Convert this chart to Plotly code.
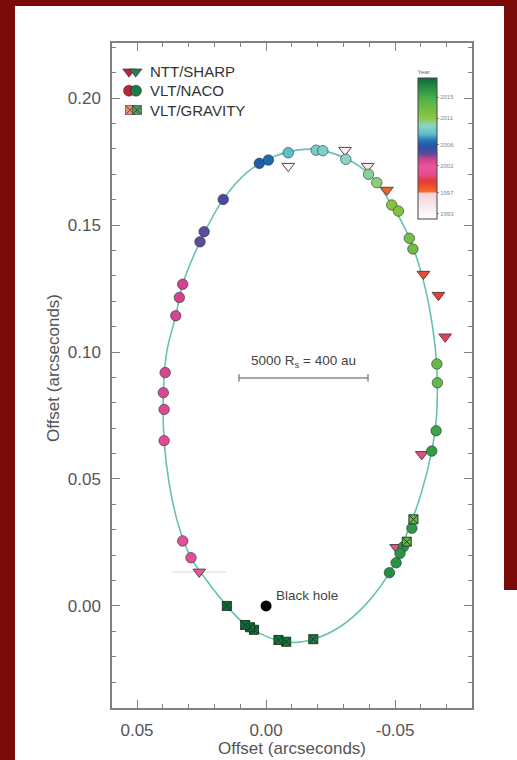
import plotly.graph_objects as go

# ---------------- data (arcseconds) ----------------
# NTT/SHARP observations
sharp_x = [-0.0086, -0.0306, -0.0394, -0.0468, -0.0610, -0.0668, -0.0694, -0.0603, -0.0504, 0.0259]
sharp_y = [0.1732, 0.1795, 0.1732, 0.1638, 0.1307, 0.1224, 0.1060, 0.0597, 0.0231, 0.0134]
sharp_year = [1992.4, 1993.4, 1994.4, 1997.5, 1998.5, 1999.0, 1999.6, 2000.2, 2000.8, 2002.0]
sharp_xerr = [0, 0, 0, 0, 0, 0, 0, 0, 0, 0.0105]

# VLT/NACO observations
naco_x = [0.0291, 0.0323, 0.0395, 0.0395, 0.0398, 0.0391, 0.0350, 0.0336, 0.0323,
          0.0256, 0.0240, 0.0166, 0.0026, -0.0009,
          -0.0086, -0.0194, -0.0220, -0.0309, -0.0397, -0.0429,
          -0.0487, -0.0513, -0.0555, -0.0569, -0.0662, -0.0664, -0.0659, -0.0642,
          -0.0565, -0.0532, -0.0519, -0.0504, -0.0478]
naco_y = [0.0190, 0.0256, 0.0651, 0.0774, 0.0840, 0.0919, 0.1143, 0.1215, 0.1267,
          0.1434, 0.1474, 0.1601, 0.1743, 0.1756,
          0.1785, 0.1795, 0.1793, 0.1759, 0.1700, 0.1667,
          0.1579, 0.1555, 0.1448, 0.1406, 0.0953, 0.0879, 0.0690, 0.0610,
          0.0306, 0.0233, 0.0207, 0.0170, 0.0131]
naco_year = [2002.3, 2002.4, 2002.6, 2002.7, 2002.8, 2002.9, 2003.0, 2003.1, 2003.2,
             2004.3, 2004.4, 2005.0, 2006.0, 2006.3,
             2008.0, 2009.0, 2009.2, 2009.6, 2010.2, 2010.5,
             2011.5, 2011.8, 2012.5, 2012.8, 2013.3, 2013.6, 2015.5, 2016.0,
             2016.3, 2016.4, 2016.5, 2016.6, 2016.8]

# VLT/GRAVITY observations
grav_x = [-0.0571, -0.0545, -0.0183, -0.0078, -0.0048, 0.0047, 0.0062, 0.0081, 0.0152]
grav_y = [0.0341, 0.0253, -0.0131, -0.0141, -0.0134, -0.0094, -0.0084, -0.0075, 0.0000]
grav_year = [2013.0, 2013.5, 2017.6, 2018.0, 2018.1, 2018.3, 2018.35, 2018.4, 2018.5]

# fitted orbit
orbit_x = [-0.0200, -0.0309, -0.0400, -0.0487, -0.0555, -0.0610, -0.0645, -0.0662, -0.0660,
           -0.0642, -0.0600, -0.0540, -0.0478, -0.0390, -0.0290, -0.0183, -0.0078, 0.0020,
           0.0090, 0.0152, 0.0230, 0.0291, 0.0340, 0.0375, 0.0395, 0.0398, 0.0385, 0.0350,
           0.0323, 0.0256, 0.0166, 0.0070, -0.0030, -0.0120, -0.0200]
orbit_y = [0.1797, 0.1762, 0.1700, 0.1580, 0.1450, 0.1280, 0.1100, 0.0930, 0.0740,
           0.0610, 0.0440, 0.0270, 0.0131, 0.0010, -0.0080, -0.0131, -0.0143, -0.0110,
           -0.0065, 0.0000, 0.0100, 0.0190, 0.0320, 0.0480, 0.0650, 0.0840, 0.1000, 0.1143,
           0.1267, 0.1434, 0.1601, 0.1710, 0.1770, 0.1795, 0.1797]

bh_x = [0.0]
bh_y = [0.0]

x_ticks = [0.05, 0.0, -0.05]
x_ticktext = ["0.05", "0.00", "-0.05"]
cbar_ticks = [2015, 2011, 2006, 2002, 1997, 1993]
cbar_ticktext = ["2015", "2011", "2006", "2002", "1997", "1993"]

# colour scale (year -> colour)
cs_years = [1992.0, 1994.5, 1996.8, 1997.2, 1998.2, 1999.2, 2000.5, 2002.0, 2003.3, 2004.2,
            2005.3, 2006.0, 2007.0, 2008.0, 2009.6, 2011.2, 2014.4, 2016.2, 2018.6]
cs_colors = ["#ffffff", "#f7e9ee", "#f2d4da", "#f26a2c", "#ef4f2c", "#e43a3c", "#e5508f",
             "#e9559b", "#cf418d", "#5d4c9e", "#3f4aa1", "#1d5ea9", "#2b7cb9", "#5dbfcc",
             "#8bd3c6", "#8cc63f", "#52b448", "#2f9a46", "#0a6a38"]

# ---------------- layout helpers ----------------
W, H = 517, 760
ML, MR, MT, MB = 112, 45, 43, 52
PW, PH = W - ML - MR, H - MT - MB


def px(xp):
    return (xp - ML) / PW


def py(yp):
    return (H - MB - yp) / PH


FONT = "Liberation Sans, Arial, Helvetica, sans-serif"
GREY = "#555555"
AXC = "#808080"

ymin, ymax = cs_years[0], cs_years[-1]
colorscale = [[(y - ymin) / (ymax - ymin), c] for y, c in zip(cs_years, cs_colors)]

fig = go.Figure()

fig.add_trace(go.Scatter(x=orbit_x, y=orbit_y, mode="lines",
                         line=dict(color="#66c2b4", width=1.6, shape="spline", smoothing=1.0),
                         hoverinfo="skip", showlegend=False))

fig.add_trace(go.Scatter(x=sharp_x, y=sharp_y, mode="markers", name="NTT/SHARP",
                         error_x=dict(type="data", array=sharp_xerr, color="#dcdcdc",
                                      thickness=1, width=0),
                         marker=dict(symbol="triangle-down", size=11, color=sharp_year,
                                     coloraxis="coloraxis",
                                     line=dict(color="#5a4040", width=1)),
                         showlegend=False))

fig.add_trace(go.Scatter(x=naco_x, y=naco_y, mode="markers", name="VLT/NACO",
                         marker=dict(symbol="circle", size=10.5, color=naco_year,
                                     coloraxis="coloraxis",
                                     line=dict(color="rgba(40,50,50,0.6)", width=1)),
                         showlegend=False))

fig.add_trace(go.Scatter(x=grav_x, y=grav_y, mode="markers", name="VLT/GRAVITY",
                         marker=dict(symbol="square-x", size=9, color=grav_year,
                                     coloraxis="coloraxis",
                                     line=dict(color="#1e3a28", width=1)),
                         showlegend=False))

fig.add_trace(go.Scatter(x=bh_x, y=bh_y, mode="markers",
                         marker=dict(symbol="circle", size=11, color="black"),
                         showlegend=False))

# legend glyphs (overlay axes in plot-fraction units)
legend_rows = [
    ("NTT/SHARP", "triangle-down", 11, "#b0283c", "#2e7d4f", 71.7, 129, 135.7),
    ("VLT/NACO", "circle", 11, "#b3283c", "#1f7a45", 90.7, 129, 136),
    ("VLT/GRAVITY", "square-x", 9, "#ef8a6a", "#4f9a5a", 110, 130, 137),
]
for label, sym, sz, c1, c2, yy, x1, x2 in legend_rows:
    fig.add_trace(go.Scatter(x=[px(x1), px(x2)], y=[py(yy), py(yy)], xaxis="x2", yaxis="y2",
                             mode="markers",
                             marker=dict(symbol=sym, size=sz, color=[c1, c2],
                                         line=dict(color="rgba(30,30,30,0.5)", width=1)),
                             hoverinfo="skip", showlegend=False))
    fig.add_annotation(x=px(148), y=py(yy), xref="paper", yref="paper", text=label,
                       showarrow=False, xanchor="left", yanchor="middle",
                       font=dict(family=FONT, size=15, color="#333333"))

axis_common = dict(showline=True, linecolor=AXC, linewidth=1.5, mirror="allticks",
                   ticks="inside", ticklen=8, tickwidth=1.2, tickcolor=AXC,
                   showgrid=False, zeroline=False,
                   tickfont=dict(family=FONT, size=17, color=GREY),
                   minor=dict(dtick=0.01, ticks="inside", ticklen=4, tickwidth=1, tickcolor=AXC))

fig.update_layout(
    width=W, height=H,
    margin=dict(l=ML, r=MR, t=MT, b=MB),
    paper_bgcolor="white", plot_bgcolor="white",
    xaxis=dict(range=[0.0597, -0.0798], tickvals=x_ticks, ticktext=x_ticktext,
               tick0=0, ticklabelstandoff=6, **axis_common),
    yaxis=dict(range=[-0.0402, 0.2217], tick0=0, dtick=0.05, tickformat=".2f",
               ticklabelstandoff=6, **axis_common),
    xaxis2=dict(overlaying="x", anchor="y2", range=[0, 1], visible=False, fixedrange=True),
    yaxis2=dict(overlaying="y", anchor="x2", range=[0, 1], visible=False, fixedrange=True),
    coloraxis=dict(colorscale=colorscale, cmin=ymin, cmax=ymax,
                   colorbar=dict(x=px(418), xanchor="left", xpad=0,
                                 y=py(67), yanchor="top", ypad=0,
                                 len=152 / PH, lenmode="fraction", thickness=19,
                                 outlinecolor="#444444", outlinewidth=1,
                                 tickvals=cbar_ticks, ticktext=cbar_ticktext,
                                 ticks="outside", ticklen=2, tickcolor="#888888",
                                 tickfont=dict(family=FONT, size=6, color="#888888"),
                                 title=dict(text="Year", side="top",
                                            font=dict(family=FONT, size=6, color="#666666")))),
    showlegend=False,
)

# axis titles
fig.add_annotation(x=0.5, y=py(748), xref="paper", yref="paper", text="Offset (arcseconds)",
                   showarrow=False, xanchor="center", yanchor="middle",
                   font=dict(family=FONT, size=17, color=GREY))
fig.add_annotation(x=px(53), y=py(368), xref="paper", yref="paper", text="Offset (arcseconds)",
                   textangle=-90, showarrow=False, xanchor="center", yanchor="middle",
                   font=dict(family=FONT, size=17, color=GREY))

# scale bar (0.05 arcsec = 400 au)
sb_x0, sb_x1, sb_y = 0.0105, -0.0395, 0.0898
fig.add_shape(type="line", xref="x", yref="y", x0=sb_x0, x1=sb_x1, y0=sb_y, y1=sb_y,
              line=dict(color="#888888", width=1.5))
for xe in (sb_x0, sb_x1):
    fig.add_shape(type="line", xref="x", yref="y", x0=xe, x1=xe, y0=sb_y - 0.0014,
                  y1=sb_y + 0.0014, line=dict(color="#888888", width=1.5))
fig.add_annotation(x=(sb_x0 + sb_x1) / 2, y=0.0962, xref="x", yref="y",
                   text="5000 R<sub>s</sub> = 400 au", showarrow=False,
                   xanchor="center", yanchor="middle",
                   font=dict(family=FONT, size=13.5, color="#444444"))

fig.add_annotation(x=-0.0031, y=0.0043, xref="x", yref="y", text="Black hole",
                   showarrow=False, xanchor="left", yanchor="middle",
                   font=dict(family=FONT, size=13.5, color="#444444"))

# dark red frame of the slide
RED = "#7b0a0a"
fig.add_shape(type="rect", xref="paper", yref="paper", x0=px(0), x1=px(15), y0=py(H),
              y1=py(0), fillcolor=RED, line=dict(width=0), layer="above")
fig.add_shape(type="rect", xref="paper", yref="paper", x0=px(0), x1=px(W), y0=py(6),
              y1=py(0), fillcolor=RED, line=dict(width=0), layer="above")
fig.add_shape(type="rect", xref="paper", yref="paper", x0=px(504), x1=px(W), y0=py(590),
              y1=py(0), fillcolor=RED, line=dict(width=0), layer="above")

fig.write_html("out.html", config={"displayModeBar": False},
               post_script="document.body.style.margin='0px';")
